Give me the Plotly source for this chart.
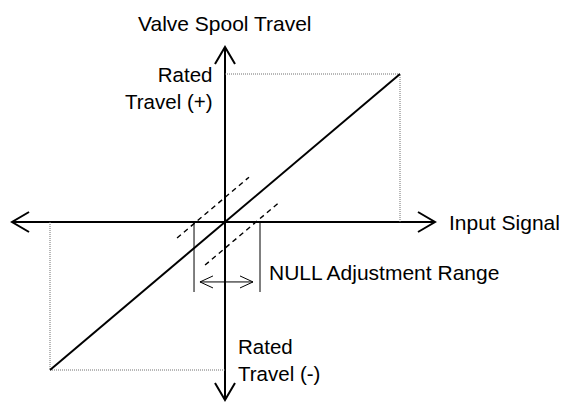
import plotly.graph_objects as go

# ---------------- data (normalised units: rated travel / rated signal = 1) ----------------
rated_signal = [-1.0, 1.0]          # input signal at rated travel
rated_travel = [-1.0, 1.0]          # valve spool travel at rated signal
input_axis_extent = [-1.217, 1.20]  # horizontal axis ends (Input Signal)
travel_axis_extent = [-1.203, 1.182]  # vertical axis ends (Valve Spool Travel)
null_range = [-0.177, 0.20]         # NULL adjustment limits on the signal axis
null_marker_depth = -0.473          # lower end of the NULL limit lines
null_arrow_level = -0.405           # level of the double arrow
null_arrow_span = [-0.143, 0.16]
shifted_intercepts = [-0.166, 0.177]  # x-intercepts of the shifted (dashed) characteristics
shifted_spans = [[-0.274, 0.137], [-0.114, 0.303]]

labels = {
    "y_title": "Valve Spool Travel",
    "x_title": "Input Signal",
    "rated_pos": "Rated<br>Travel (+)",
    "rated_neg": "Rated<br>Travel (-)",
    "null": "NULL Adjustment Range",
}

# ---------------- layout constants (pixels) ----------------
W, H = 563, 403
ORIGIN_PX = (225, 222)
PX_X, PX_Y = 175.0, 148.0   # pixels per unit
FONT = "Liberation Sans, Arial, sans-serif"
FS = 21
FS_SMALL = 20.5


def vx(px):  # pixel length -> data length in x
    return px / PX_X


def vy(px):
    return px / PX_Y


fig = go.Figure()


def seg(xs, ys, width=2, color="black", dash=None):
    fig.add_trace(go.Scatter(x=xs, y=ys, mode="lines", hoverinfo="skip", showlegend=False,
                             line=dict(color=color, width=width, dash=dash)))


# main axes
seg(input_axis_extent, [0, 0], 2)
seg([0, 0], travel_axis_extent, 2)

# open arrowheads on the axes
AL, AW = 17, 10
xl, xr = input_axis_extent
yb, yt = travel_axis_extent
seg([xr - vx(AL), xr, xr - vx(AL)], [vy(AW), 0, -vy(AW)], 2)
seg([xl + vx(AL), xl, xl + vx(AL)], [vy(AW), 0, -vy(AW)], 2)
seg([-vx(AW), 0, vx(AW)], [yt - vy(AL), yt, yt - vy(AL)], 2)
seg([-vx(AW), 0, vx(AW)], [yb + vy(AL), yb, yb + vy(AL)], 2)

# dotted guides to rated travel
seg([0, rated_signal[1], rated_signal[1]], [rated_travel[1], rated_travel[1], 0], 1, "#707070", "1px,1px")
seg([rated_signal[0], rated_signal[0], 0], [0, rated_travel[0], rated_travel[0]], 1, "#707070", "1px,1px")

# characteristic
seg(rated_signal, rated_travel, 2)

# shifted characteristics (dashed)
for b, (x0, x1) in zip(shifted_intercepts, shifted_spans):
    seg([x0, x1], [x0 - b, x1 - b], 1.4, "black", "5px,4px")

# NULL limit lines
for xv in null_range:
    seg([xv, xv], [0, null_marker_depth], 1)

# NULL double arrow
seg(null_arrow_span, [null_arrow_level, null_arrow_level], 1)
HL, HW = 13, 6
a0, a1 = null_arrow_span
seg([a0 + vx(HL), a0, a0 + vx(HL)], [null_arrow_level + vy(HW), null_arrow_level, null_arrow_level - vy(HW)], 1)
seg([a1 - vx(HL), a1, a1 - vx(HL)], [null_arrow_level + vy(HW), null_arrow_level, null_arrow_level - vy(HW)], 1)

# text
font = dict(family=FONT, size=FS, color="black")
font_s = dict(family=FONT, size=FS_SMALL, color="black")
ann = [
    dict(text=labels["y_title"], x=0, y=vy(ORIGIN_PX[1] - 23), xanchor="center", yanchor="middle", font=font),
    dict(text=labels["rated_pos"], x=-vx(10), y=vy(ORIGIN_PX[1] - 88), xanchor="right", yanchor="middle",
         align="right", font=font_s),
    dict(text=labels["x_title"], x=vx(222), y=0, xanchor="left", yanchor="middle", font=font),
    dict(text=labels["null"], x=vx(42), y=-vy(50), xanchor="left", yanchor="middle", font=font),
    dict(text=labels["rated_neg"], x=vx(11), y=-vy(138), xanchor="left", yanchor="middle", align="left",
         font=font_s),
]
for a in ann:
    a.update(xref="x", yref="y", showarrow=False)

fig.update_layout(
    width=W, height=H, margin=dict(l=0, r=0, t=0, b=0),
    paper_bgcolor="white", plot_bgcolor="white",
    xaxis=dict(range=[-ORIGIN_PX[0] / PX_X, (W - ORIGIN_PX[0]) / PX_X], visible=False, fixedrange=True),
    yaxis=dict(range=[-(H - ORIGIN_PX[1]) / PX_Y, ORIGIN_PX[1] / PX_Y], visible=False, fixedrange=True),
    annotations=ann,
)

fig.write_html("out.html", config={"displayModeBar": False},
               post_script="document.body.style.margin='0px';document.body.style.overflow='hidden';")
